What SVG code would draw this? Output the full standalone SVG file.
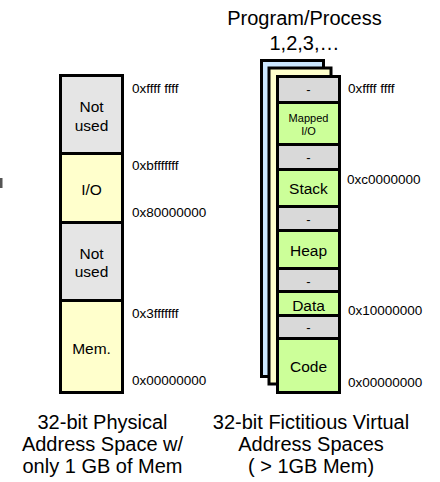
<svg xmlns="http://www.w3.org/2000/svg" width="440" height="482" viewBox="0 0 440 482">
<style>
text{font-family:"Liberation Sans",Arial,sans-serif;fill:#000}
.seg{stroke:#000;stroke-width:3}
.gray{fill:#e5e5e5}
.dgray{fill:#d9d9d9}
.yel{fill:#ffffcc}
.grn{fill:#ccff99}
.blu{fill:#cce8ff}
.lbl{font-size:13.5px}
.dash{font-size:13px}
.c{text-anchor:middle}
.t15{font-size:15.5px}
.big{font-size:20px}
.cap{font-size:20px}
</style>
<rect x="0" y="178" width="2.5" height="10" fill="#555"/>
<g id="title">
<text class="big c" x="304.5" y="25">Program/Process</text>
<text class="big c" x="304.5" y="50">1,2,3,…</text>
</g>
<g id="physical">
<g id="p-notused-top"><rect class="seg gray" x="60.5" y="75.5" width="62" height="78"/><text class="t15 c" x="91.5" y="112">Not</text><text class="t15 c" x="91.5" y="131">used</text></g>
<g id="p-io"><rect class="seg yel" x="60.5" y="153.5" width="62" height="69"/><text class="t15 c" x="91.5" y="195">I/O</text></g>
<g id="p-notused"><rect class="seg gray" x="60.5" y="222.5" width="62" height="78"/><text class="t15 c" x="91.5" y="259">Not</text><text class="t15 c" x="91.5" y="277">used</text></g>
<g id="p-mem"><rect class="seg yel" x="60.5" y="300.5" width="62" height="92"/><text class="t15 c" x="91.5" y="354">Mem.</text></g>
<text class="lbl" x="132" y="93">0xffff ffff</text>
<text class="lbl" x="132" y="170">0xbfffffff</text>
<text class="lbl" x="132" y="217">0x80000000</text>
<text class="lbl" x="132" y="318">0x3fffffff</text>
<text class="lbl" x="132" y="385">0x00000000</text>
</g>
<g id="virtual">
<g id="v-back"><rect class="seg blu" x="261.5" y="60.5" width="62" height="316"/></g>
<g id="v-mid"><rect class="seg yel" x="269" y="68" width="62" height="316"/></g>
<g id="v-front">
<rect class="seg dgray" x="277.5" y="76.5" width="62" height="26"/><text class="dash c" x="308.5" y="94">-</text>
<rect class="seg grn" x="277.5" y="102.5" width="62" height="42"/><text class="c" style="font-size:11px" x="308.5" y="121.5">Mapped</text><text class="c" style="font-size:11px" x="308.5" y="135">I/O</text>
<rect class="seg dgray" x="277.5" y="144.5" width="62" height="25"/><text class="dash c" x="308.5" y="162">-</text>
<rect class="seg grn" x="277.5" y="169.5" width="62" height="37"/><text class="t15 c" x="308.5" y="194">Stack</text>
<rect class="seg dgray" x="277.5" y="206.5" width="62" height="24"/><text class="dash c" x="308.5" y="224">-</text>
<rect class="seg grn" x="277.5" y="230.5" width="62" height="38"/><text class="t15 c" x="308.5" y="255.5">Heap</text>
<rect class="seg dgray" x="277.5" y="268.5" width="62" height="23"/><text class="dash c" x="308.5" y="286">-</text>
<rect class="seg grn" x="277.5" y="291.5" width="62" height="24"/><text class="t15 c" x="308.5" y="310.5">Data</text>
<rect class="seg dgray" x="277.5" y="315.5" width="62" height="23"/><text class="dash c" x="308.5" y="332">-</text>
<rect class="seg grn" x="277.5" y="338.5" width="62" height="54"/><text class="t15 c" x="308.5" y="372">Code</text>
</g>
<text class="lbl" x="348" y="93">0xffff ffff</text>
<text class="lbl" x="347" y="184">0xc0000000</text>
<text class="lbl" x="348" y="315">0x10000000</text>
<text class="lbl" x="348" y="387">0x00000000</text>
</g>
<g id="captions">
<text class="cap c" x="102.5" y="429">32-bit Physical</text>
<text class="cap c" x="102.5" y="451">Address Space w/</text>
<text class="cap c" x="102.5" y="473">only 1 GB of Mem</text>
<text class="cap c" x="311" y="429">32-bit Fictitious Virtual</text>
<text class="cap c" x="311" y="451">Address Spaces</text>
<text class="cap c" x="311" y="473">( &gt; 1GB Mem)</text>
</g>
</svg>
